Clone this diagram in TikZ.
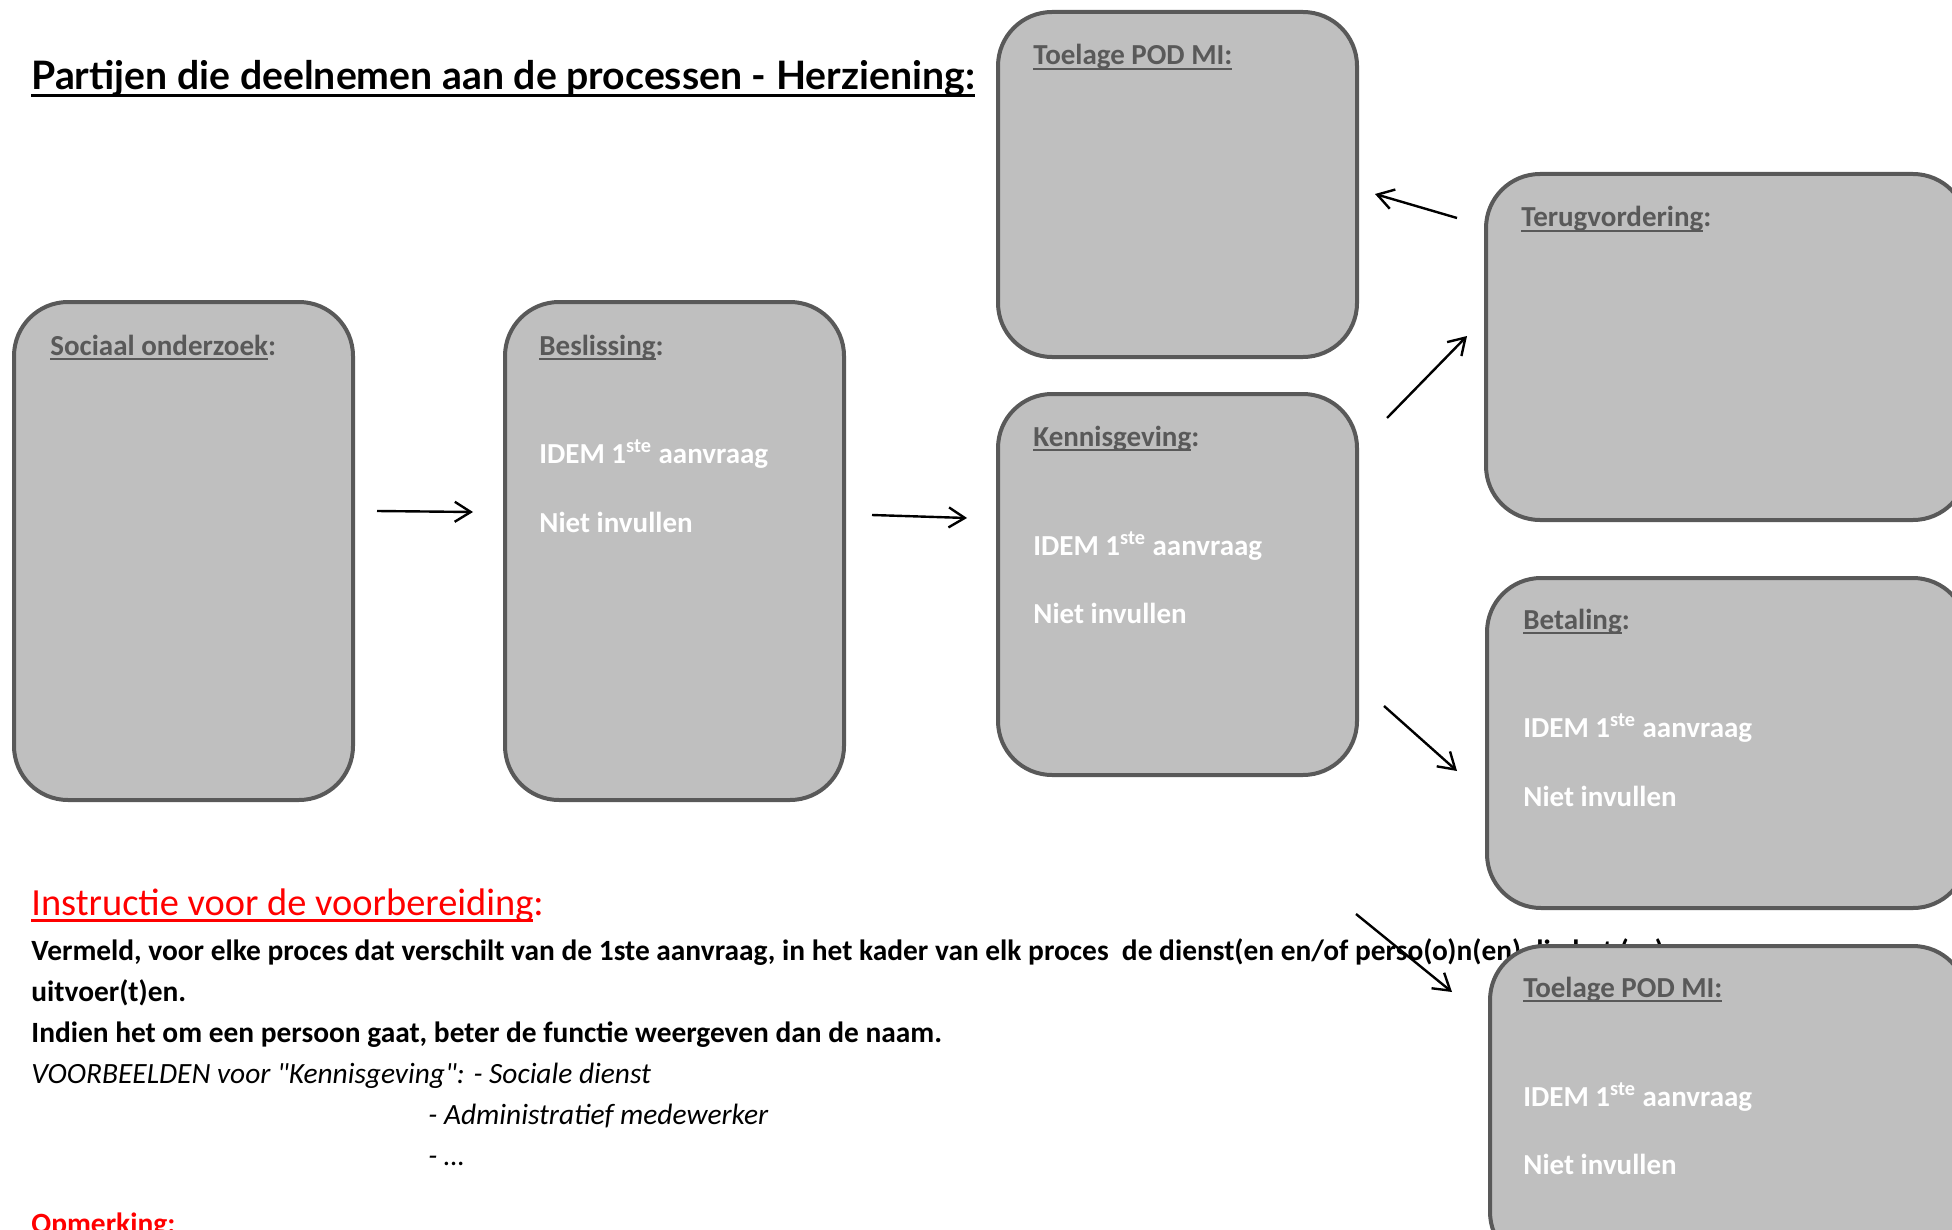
\documentclass[tikz,border=0pt]{standalone}
\usepackage{fontspec}
\setmainfont{Carlito}
\newfontfamily\titlefont{Lato}
\usetikzlibrary{arrows.meta}

\definecolor{boxgrey}{HTML}{BFBFBF}
\definecolor{edgegrey}{HTML}{595959}
\definecolor{notered}{HTML}{FF0000}

% underline at a fixed depth, like a word processor does
\newcommand\undl[1]{\setbox0\hbox{#1}\rlap{\rule[-0.17em]{\wd0}{0.07em}}\box0}

\begin{document}
\begin{tikzpicture}[x=0.5pt, y=-0.5pt,
  box/.style={draw=edgegrey, fill=boxgrey, line width=2pt, rounded corners=27pt,
    anchor=north west, inner sep=0pt},
  head/.style={anchor=base west, inner sep=0pt, text=edgegrey,
    font=\fontsize{14.5}{17}\selectfont\bfseries},
  idem/.style={anchor=base west, inner sep=0pt, text=white,
    font=\fontsize{14.5}{17}\selectfont\bfseries},
  txt/.style={anchor=base west, inner sep=0pt, font=\fontsize{14.7}{17}\selectfont},
  arr/.style={-{Straight Barb[length=8pt,width=10pt]}, line width=1.2pt}]

\useasboundingbox (0,0) rectangle (1952,1230);
\clip (0,0) rectangle (1952,1230);

% title
\node[anchor=base west, inner sep=0pt, font=\titlefont\fontsize{19.6}{22}\selectfont\bfseries]
  (title) at (31,90) {\undl{Partijen die deelnemen aan de processen - Herziening:}};

% instructions
\node[txt, text=notered, font=\fontsize{19.2}{22}\selectfont] (instr) at (31,915)
  {\undl{Instructie voor de voorbereiding}:};
\node[txt, font=\fontsize{14.7}{17}\selectfont\bfseries] (line1) at (31,960)
  {Vermeld, voor elke proces dat verschilt van de 1ste aanvraag, in het kader van elk proces\ \ de dienst(en en/of perso(o)n(en) die het (ze)};
\node[txt, font=\fontsize{14.7}{17}\selectfont\bfseries] (line2) at (31,1001) {uitvoer(t)en.};
\node[txt, font=\fontsize{14.7}{17}\selectfont\bfseries] (line3) at (31,1042)
  {Indien het om een persoon gaat, beter de functie weergeven dan de naam.};
\node[txt, font=\fontsize{14.7}{17}\selectfont\itshape] (ex1) at (31,1083)
  {VOORBEELDEN voor \textquotedbl Kennisgeving\textquotedbl: - Sociale dienst};
\node[txt, font=\fontsize{14.7}{17}\selectfont\itshape] (ex2) at (428,1124) {- Administratief medewerker};
\node[txt, font=\fontsize{14.7}{17}\selectfont\itshape] (ex3) at (428,1165) {- …};
\node[txt, text=notered, font=\fontsize{14.7}{17}\selectfont\bfseries] (opm) at (31,1233)
  {\undl{Opmerking}:};

% boxes
\node[box, minimum width=169.5pt, minimum height=249pt] (onderzoek) at (12,300) {};
\node[box, minimum width=169.5pt, minimum height=249pt] (beslissing) at (503,300) {};
\node[box, minimum width=179.5pt, minimum height=172.5pt] (toelage) at (996,10) {};
\node[box, minimum width=179.5pt, minimum height=190.5pt] (kennis) at (996,392) {};
\node[box, minimum width=240.5pt, minimum height=173pt] (terug) at (1484,172) {};
\node[box, minimum width=240pt, minimum height=165pt] (betaling) at (1485,576) {};
\node[box, minimum width=238.5pt, minimum height=160pt] (toelage2) at (1488,944) {};

% box texts
\node[head] (h1) at (50,355) {\undl{Sociaal onderzoek}:};
\node[head] (h2) at (539,355) {\undl{Beslissing}:};
\node[idem] (i2) at (539,463) {IDEM 1\textsuperscript{ste} aanvraag};
\node[idem] (n2) at (539,532) {Niet invullen};
\node[head] (h3) at (1033,65) {\undl{Toelage POD MI:}};
\node[head] (h4) at (1033,446) {\undl{Kennisgeving}:};
\node[idem] (i4) at (1033,555) {IDEM 1\textsuperscript{ste} aanvraag};
\node[idem] (n4) at (1033,623) {Niet invullen};
\node[head] (h5) at (1521,227) {\undl{Terugvordering}:};
\node[head] (h6) at (1523,629) {\undl{Betaling}:};
\node[idem] (i6) at (1523,737) {IDEM 1\textsuperscript{ste} aanvraag};
\node[idem] (n6) at (1523,806) {Niet invullen};
\node[head] (h7) at (1523,997) {\undl{Toelage POD MI:}};
\node[idem] (i7) at (1523,1106) {IDEM 1\textsuperscript{ste} aanvraag};
\node[idem] (n7) at (1523,1174) {Niet invullen};

% arrows
\coordinate (a1s) at (377,511);  \coordinate (a1e) at (473,512);
\coordinate (a2s) at (872,515);  \coordinate (a2e) at (967,518);
\coordinate (a3s) at (1387,418); \coordinate (a3e) at (1467,336);
\coordinate (a4s) at (1457,218); \coordinate (a4e) at (1375,194);
\coordinate (a5s) at (1384,706); \coordinate (a5e) at (1457,771);
\coordinate (a6s) at (1356,914); \coordinate (a6e) at (1452,992);
\draw[arr] (a1s) -- (a1e);
\draw[arr] (a2s) -- (a2e);
\draw[arr] (a3s) -- (a3e);
\draw[arr] (a4s) -- (a4e);
\draw[arr] (a5s) -- (a5e);
\draw[arr] (a6s) -- (a6e);

\end{tikzpicture}
\end{document}
